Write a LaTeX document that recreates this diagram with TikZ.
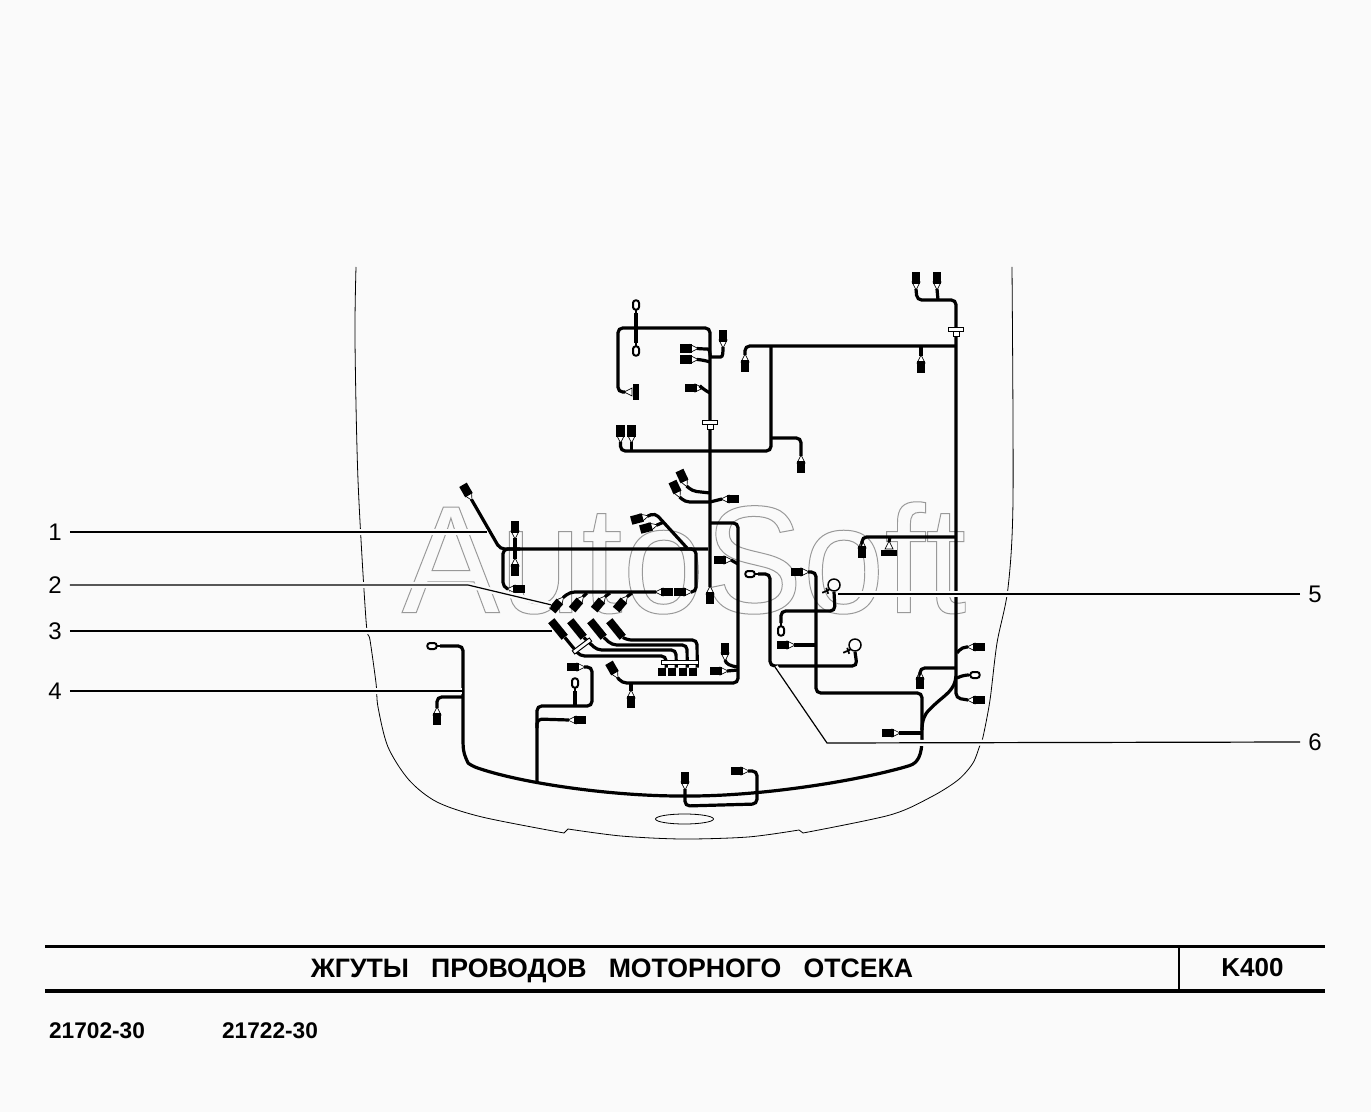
\documentclass[tikz,border=0pt]{standalone}
\usepackage{fontspec}
\setmainfont{Liberation Sans}
\usepackage{tikz}
\usetikzlibrary{calc}
\definecolor{bgcol}{HTML}{FAFAFA}
\tikzset{
  wire/.style={line width=2.4pt,rounded corners=3.5pt},
  bodyline/.style={line width=0.6pt},
  leader/.style={line width=0.9pt,preaction={draw,bgcol,line width=4.5pt}},
  tipline/.style={line width=0.5pt,fill=white},
  plugbox/.style={fill=black,inner sep=0pt,minimum width=9pt,minimum height=6.5pt},
  barbox/.style={fill=black,inner sep=0pt,minimum width=4pt,minimum height=11.5pt},
  longplug/.style={fill=black,inner sep=0pt,minimum width=16pt,minimum height=6pt},
  smallplug/.style={fill=black,inner sep=0pt,minimum size=6pt},
  lugbox/.style={draw,fill=white,line width=1.5pt,rounded corners=2pt,inner sep=0pt,minimum width=7pt,minimum height=4.5pt},
  ringnode/.style={circle,draw,fill=bgcol,line width=1.1pt,inner sep=0pt,minimum size=9pt},
  whitebar/.style={draw,fill=white,line width=0.7pt,inner sep=0pt,minimum height=3pt},
  numlabel/.style={inner xsep=6pt,inner ysep=0pt,font=\fontsize{18}{18}\selectfont}
}
\newcommand{\plug}[5][plugbox]{
  \begin{scope}[shift={(#3,#4)},rotate=-#5]
    \draw[tipline] (4,-4) -- (12,0) -- (4,4) -- cycle;
    \node[#1,rotate=-#5] (#2) at (0,0) {};
    \coordinate (#2t) at (11,0);
  \end{scope}}
\newcommand{\lug}[4]{
  \begin{scope}[shift={(#2,#3)},rotate=-#4]
    \draw[line width=1.8pt] (4,0) -- (9,0);
    \node[lugbox,rotate=-#4] (#1) at (0,0) {};
    \coordinate (#1t) at (8,0);
  \end{scope}}
\newcommand{\tclip}[3]{
  \node[draw,fill=white,line width=0.5pt,inner sep=0pt,minimum width=4.5pt,minimum height=4.5pt] (#1b) at (#2,#3+2) {};
  \node[draw,fill=white,line width=0.5pt,inner sep=0pt,minimum width=11.5pt,minimum height=3pt] (#1) at (#2,#3-1.5) {};}
\begin{document}
\begin{tikzpicture}[x=0.75pt,y=-0.75pt]
  \useasboundingbox (0,0) rectangle (1371,1112);
  \fill[bgcol] (0,0) rectangle (1371,1112);
  % watermark
  \node[inner sep=0pt,xscale=0.96] (mark) at (684,558) {\fontsize{115}{115}\selectfont
    \special{pdf:code 1 Tr 0.75 w 0.6 G}AutoSoft\special{pdf:code 0 Tr 0 G}};
  % car body
  \draw[bodyline] plot[smooth,tension=0.5] coordinates {(356,267) (355,340) (358,480) (366,620) (370,640) (376,683) (378,707) (388,747) (409,780) (437,802) (482,817) (564,833)}
    -- (568,829) plot[smooth,tension=0.5] coordinates {(568,829) (621,836) (682,839) (748,837) (799,830)}
    -- (803,833) plot[smooth,tension=0.5] coordinates {(803,833) (890,815) (931,797) (958,780) (973,763) (980,745) (983,737) (990,700) (997,643) (1008,588) (1013,500) (1012,267)};
  \draw[bodyline] (684.5,819) ellipse (29 and 5);
  % plugs
  \foreach \n/\x/\y/\a in {a1/466/490/60,a2/515/527/90,a3/515/570/270,a4/519/589/180,a5/680/592/0,a6/667/592/180,
      a7/556/606/310,a8/576/605/310,a9/598/605/310,a10/620/605/310,a11/637/519/345,a12/646/528/345,a13/710/598/270,
      b2/686/348.5/0,b3/686/359.5/0,b4/723/336/90,b5/691/388/0,b6/620.5/431/90,b7/631.5/431/90,b8/801/467/270,
      b9/745/366/270,b10/921/367/270,b11/916/278/90,b12/937/278/90,
      c1/682/476/65,c2/675/487/65,c3/733/499/180,c4/720/560/0,
      d1/797/572/0,d2/783/645/0,d3/862/552/270,d5/979/647/180,d6/979/700/180,d7/920/683/270,d8/888/733/0,
      e1/437/719/270,e2/573/667/0,e3/580/720/180,e4/612/668/60,e5/631/702/270,e6/725/649/90,e7/716/671/0,e8/685/778/90,e9/737/771/0}
    \plug{\n}{\x}{\y}{\a};
  \plug[barbox]{b1}{636}{392}{180}
  \plug[barbox]{d4}{889}{553}{270}
  \foreach \n/\x/\y/\a in {r1/636/305/90,r2/636/351/270,r3/432/646/0,r4/575/683/90,r5/750/574/0,r6/781/631/270,r7/975/675/180}
    \lug{\n}{\x}{\y}{\a};
  \foreach \n/\x in {q1/558,q2/577,q3/597,q4/616}
    \node[longplug,rotate=-51] (\n) at (\x,629) {};
  \foreach \n/\x in {s1/662,s2/672,s3/683,s4/693}
    \node[smallplug] (\n) at (\x,672) {};
  \node[ringnode] (g1) at (855,645) {};
  \node[ringnode] (g2) at (834,585) {};
  \foreach \g in {g1,g2} {
    \draw[line width=1.3pt] (\g.south west) -- ++(-7,3);
    \draw[line width=1.3pt] ($(\g.south west)+(-3,-2)$) -- ++(2,6);
  }
  % wires, left group
  \draw[wire] (a1t) -- (500,549) -- (708,549);
  \draw[wire] (a4t) -- (503,587) -- (503,549) -- (520,549);
  \draw[wire] (a2t) -- (a3t);
  \draw[wire] (a5t) -- (696,592) -- (696,549) -- (680,549);
  \draw[wire] (a6t) -- (570,592) -- (a7t);
  \draw[wire] (a8t) -- (587,593);
  \draw[wire] (a9t) -- (610,593);
  \draw[wire] (a10t) -- (632,593);
  \draw[wire] (a11t) -- (655,513) -- (687,548);
  \draw[wire] (a12t) -- (664,522);
  \draw[wire] (q1.east) -- (580,656) -- (666,656) -- (s1.north east);
  \draw[wire] (q2.east) -- (597,650) -- (676,650) -- (s2.north east);
  \draw[wire] (q3.east) -- (612,645) -- (687,645) -- (s3.north east);
  \draw[wire] (q4.east) -- (627,640) -- (697,640) -- (s4.north east);
  % wires, top group
  \draw[wire] (a13t) -- (710,328) -- (618,328) -- (618,392) -- (b1t);
  \draw[wire] (r1t) -- (r2t);
  \draw[wire] (b2t) -- (703,349) .. controls (711,349) and (709,357) .. (716,357) .. controls (723,357) and (723,352) .. (b4t);
  \draw[wire] (b3t) -- (703,360) -- (710,362);
  \draw[wire] (b5t) -- (703,389) -- (710,393);
  \draw[wire] (b9t) -- (745,346) -- (956,346);
  \draw[wire] (771,346) -- (771,451) -- (620.5,451) -- (b6t);
  \draw[wire] (b7t) -- (631.5,451);
  \draw[wire] (772,438) -- (801,438) -- (b8t);
  \draw[wire] (b10t) -- (921,346);
  \draw[wire] (b11t) -- (917,300) -- (956,300) -- (956,698) -- (d6t);
  \draw[wire] (b12t) -- (938,300);
  \draw[wire] (c1t) -- (692,491) -- (710,493);
  \draw[wire] (c2t) -- (685,502) -- (710,502);
  \draw[wire] (c3t) -- (710,502);
  % wires, right group
  \draw[wire] (d5t) -- (962,647) -- (957,653);
  \draw[wire] (r7t) -- (964,675) -- (957,678);
  \draw[wire] (d3t) -- (862,537) -- (956,537);
  \draw[wire] (d4t) -- (890,537);
  \draw[wire] (711,523) -- (738,523) -- (738,683) -- (622,683) -- (e4t);
  \draw[wire] (e5t) -- (631,683);
  \draw[wire] (e6t) .. controls (726,664) and (730,666) .. (738,667);
  \draw[wire] (e7t) -- (738,670);
  \draw[wire] (c4t) -- (738,564);
  \draw[wire] (r5t) -- (770,574) -- (770,666) -- (857,666) -- (g1.south);
  \draw[wire] (g2.south) -- (835,611) -- (781,611) -- (r6t);
  \draw[wire] (d1t) -- (816,572) -- (816,693) -- (922,693) -- (922,738);
  \draw[wire] (d2t) -- (816,645);
  \draw[wire] (d7t) -- (920,668) -- (956,668);
  \draw[wire] (d8t) -- (922,733);
  \draw[wire] (956,676) .. controls (955,690) and (945,695) .. (932,707) .. controls (925,714) and (922,720) .. (922,730);
  % wires, bottom group
  \draw[wire] (r3t) -- (463,646) -- (463,745) .. controls (464,755) and (468,763) .. (472,766) .. controls (520,783) and (610,796) .. (685,796) .. controls (760,796) and (850,782) .. (905,767) .. controls (918,763) and (922,755) .. (922,738);
  \draw[wire] (e1t) -- (437,697) -- (463,697);
  \draw[wire] (537,782) -- (537,706) -- (592,706) -- (592,667) -- (e2t);
  \draw[wire] (r4t) -- (575,706);
  \draw[wire] (537,728) -- (537,719) -- (e3t);
  \draw[wire] (e8t) -- (685,806) -- (757,804) -- (757,771) -- (e9t);
  % clips and bars
  \tclip{k1}{710}{424}
  \tclip{k2}{956}{331}
  \node[whitebar,minimum width=28pt] (w1) at (680,662) {};
  \node[whitebar,minimum width=16pt,rotate=37] (w2) at (582,646) {};
  % leaders
  \node[numlabel] (n1) at (55,532) {1};
  \node[numlabel] (n2) at (55,585) {2};
  \node[numlabel] (n3) at (55,631) {3};
  \node[numlabel] (n4) at (55,691) {4};
  \node[numlabel] (n5) at (1315,594) {5};
  \node[numlabel] (n6) at (1315,742) {6};
  \coordinate (t2) at (468,585);
  \coordinate (t6) at (827,743);
  \draw[leader] (n1.east) -- (487,532);
  \draw[leader] (n2.east) -- (t2) -- (a7);
  \draw[leader] (n3.east) -- (552,631);
  \draw[leader] (n4.east) -- (462,691);
  \draw[leader] (n5.west) -- (838,594);
  \draw[leader] (n6.west) -- (t6) -- (775,667);
  % title block
  \draw[line width=2.7pt] (45,946.5) -- (1325,946.5);
  \draw[line width=2.7pt] (45,991) -- (1325,991);
  \draw[line width=1.5pt] (1178.5,946) -- (1178.5,991);
  \node[inner sep=0pt,font=\bfseries\fontsize{20}{20}\selectfont] (title) at (612,971) {ЖГУТЫ\ \ \ ПРОВОДОВ\ \ \ МОТОРНОГО\ \ \ ОТСЕКА};
  \node[inner sep=0pt,font=\bfseries\fontsize{19.5}{20}\selectfont] (kcode) at (1252.5,968) {K400};
  \node[inner sep=0pt,font=\bfseries\fontsize{17}{18}\selectfont] (code1) at (97,1031) {21702-30};
  \node[inner sep=0pt,font=\bfseries\fontsize{17}{18}\selectfont] (code2) at (270,1031) {21722-30};
\end{tikzpicture}
\end{document}
